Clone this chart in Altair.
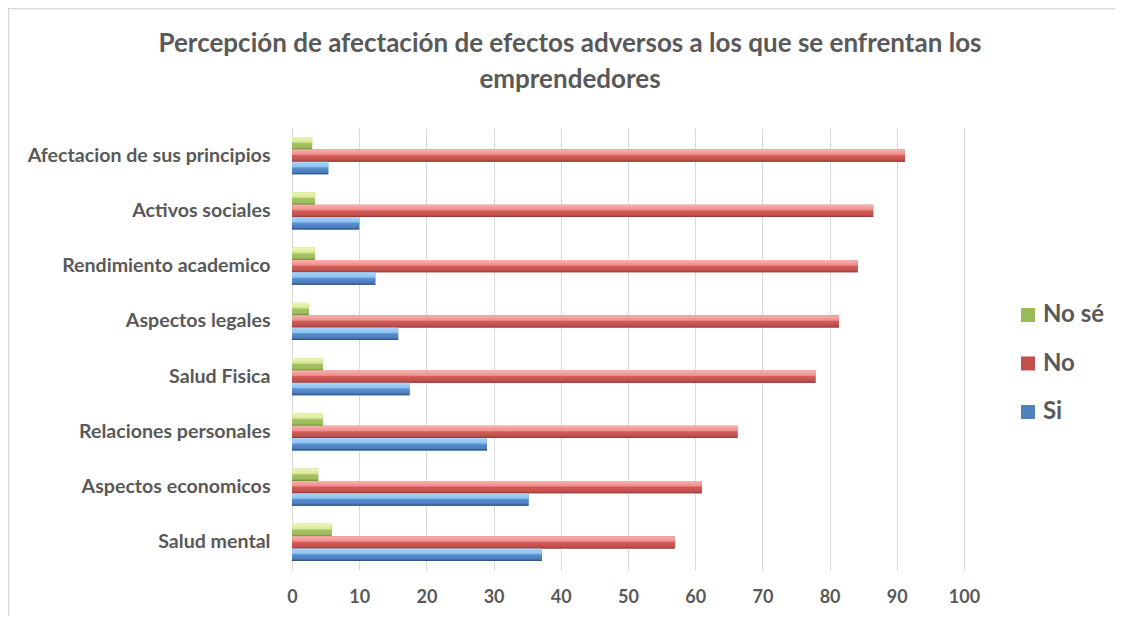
import altair as alt
import pandas as pd

categories = [
    "Afectacion de sus principios",
    "Activos sociales",
    "Rendimiento academico",
    "Aspectos legales",
    "Salud Fisica",
    "Relaciones personales",
    "Aspectos economicos",
    "Salud mental",
]
si = [5.4, 10.0, 12.4, 15.8, 17.5, 29.0, 35.2, 37.2]
no = [91.2, 86.5, 84.2, 81.4, 77.9, 66.3, 61.0, 57.0]
nose = [3.0, 3.4, 3.4, 2.5, 4.6, 4.6, 3.9, 5.9]
series = ["No sé", "No", "Si"]
colors = ["#9BBB59", "#C0504D", "#4F81BD"]
x_ticks = [0, 10, 20, 30, 40, 50, 60, 70, 80, 90, 100]
title_lines = [
    "Percepción de afectación de efectos adversos a los que se enfrentan los",
    "emprendedores",
]

rows = []
for i, c in enumerate(categories):
    rows.append({"cat": c, "serie": "No sé", "val": nose[i]})
    rows.append({"cat": c, "serie": "No", "val": no[i]})
    rows.append({"cat": c, "serie": "Si", "val": si[i]})
df = pd.DataFrame(rows)

FONT = "Lato"
GRAY = "#595959"

W, H = 672, 442
PAD = {"left": 284, "top": 120, "right": 151, "bottom": 46}

y_enc = alt.Y(
    "cat:N",
    sort=categories,
    scale=alt.Scale(paddingInner=0.33, paddingOuter=0.165),
    axis=alt.Axis(
        title=None, ticks=False, domain=False, grid=False,
        labelFont=FONT, labelFontSize=19.6, labelFontWeight="bold",
        labelColor=GRAY, labelPadding=22, labelLimit=400,
    ),
)
yoff_enc = alt.YOffset(
    "serie:N",
    scale=alt.Scale(domain=series, paddingInner=0, paddingOuter=0),
)
x_enc = alt.X(
    "val:Q",
    scale=alt.Scale(domain=[0, 100], nice=False),
    axis=alt.Axis(
        title=None, values=x_ticks, ticks=False, domain=False,
        grid=True, gridColor="#D9D9D9", gridWidth=1,
        labelFont=FONT, labelFontSize=18, labelFontWeight="bold",
        labelColor=GRAY, labelPadding=18, labelFlush=False,
    ),
)

base = alt.Chart(df).mark_bar().encode(
    y=y_enc,
    yOffset=yoff_enc,
    x=x_enc,
    color=alt.Color(
        "serie:N",
        scale=alt.Scale(domain=series, range=colors),
        legend=alt.Legend(
            title=None, orient="none", legendX=724, legendY=175,
            symbolType="square", symbolSize=196, symbolStrokeWidth=0,
            labelFont=FONT, labelFontSize=24, labelFontWeight="bold",
            labelColor=GRAY, rowPadding=24.5, labelOffset=3,
        ),
    ),
)

grads = {
    "Si": [("#a9d4f7", 0), ("#8cc3f0", 0.4), ("#5a8fd0", 0.5), ("#4a7cbb", 0.85), ("#2c4d7a", 1)],
    "No": [("#f7b2b0", 0), ("#ef8f8c", 0.4), ("#d25b58", 0.5), ("#c0504d", 0.85), ("#8c3432", 1)],
    "No sé": [("#eef7b5", 0), ("#d6e79a", 0.4), ("#a6c365", 0.5), ("#9bbb59", 0.85), ("#6b8a31", 1)],
}

layers = [base]
for s in series:
    g = alt.Gradient(
        gradient="linear",
        stops=[alt.GradientStop(color=c, offset=o) for c, o in grads[s]],
        x1=0, x2=0, y1=0, y2=1,
    )
    layers.append(
        alt.Chart(df)
        .transform_filter(alt.datum.serie == s)
        .mark_bar(fill=g)
        .encode(y=y_enc, yOffset=yoff_enc, x=x_enc)
    )

one = pd.DataFrame({"k": [0]})
frame_top = alt.Chart(one).mark_rule(color="#D9D9D9", strokeWidth=1.5).encode(
    x=alt.value(-PAD["left"]), x2=alt.value(W + PAD["right"]),
    y=alt.value(-PAD["top"] + 0.5),
)
frame_left = alt.Chart(one).mark_rule(color="#D9D9D9", strokeWidth=1.5).encode(
    x=alt.value(-PAD["left"] + 0.5),
    y=alt.value(-PAD["top"]), y2=alt.value(H + PAD["bottom"]),
)

TITLE_X = 570 - 8 - PAD["left"]
title1 = alt.Chart(one).mark_text(
    font=FONT, fontSize=26, fontWeight="bold", color=GRAY,
    align="center", baseline="alphabetic",
).encode(x=alt.value(TITLE_X), y=alt.value(-76), text=alt.value(title_lines[0]))
title2 = alt.Chart(one).mark_text(
    font=FONT, fontSize=26, fontWeight="bold", color=GRAY,
    align="center", baseline="alphabetic",
).encode(x=alt.value(TITLE_X), y=alt.value(-40), text=alt.value(title_lines[1]))

layers += [frame_top, frame_left, title1, title2]

chart = (
    alt.layer(*layers)
    .properties(
        width=W,
        height=H,
        padding=PAD,
        autosize=alt.AutoSizeParams(type="none"),
        background="white",
    )
    .configure_view(stroke="transparent")
)

chart.save("out.html", embed_options={"renderer": "svg", "actions": False})
